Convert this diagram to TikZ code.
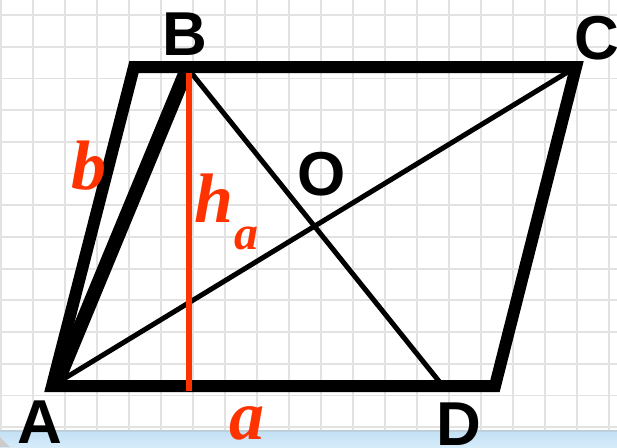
\documentclass[tikz,border=0pt]{standalone}
\usepackage{fontspec}
\setmainfont{Liberation Sans}
\newfontfamily\redserif{Liberation Serif}
\definecolor{redlab}{RGB}{255,51,0}
\definecolor{gridc}{RGB}{226,226,226}
\definecolor{stripA}{RGB}{196,224,244}
\definecolor{stripB}{RGB}{214,236,250}
\definecolor{stripL}{RGB}{190,208,220}
\tikzset{
  gridline/.style={draw=gridc, line width=1.8},
  side/.style={draw=black, line width=12, line join=miter},
  thickseg/.style={draw=black, line width=14},
  diag/.style={draw=black, line width=5},
  heightline/.style={draw=redlab, line width=6},
  ptlabel/.style={font=\fontsize{62}{62}\selectfont\bfseries, inner sep=0, anchor=base},
  redlabel/.style={font=\fontsize{70}{70}\selectfont\redserif\bfseries\itshape, text=redlab, inner sep=0, anchor=base},
  sublabel/.style={font=\fontsize{48}{48}\selectfont\redserif\bfseries\itshape, text=redlab, inner sep=0, anchor=base}
}
\begin{document}
\begin{tikzpicture}[x=1pt,y=-1pt]
\useasboundingbox (0,0) rectangle (617,447);
\fill[white] (0,0) rectangle (617,447);
% grid
\draw[gridline] (1,0) -- (1,447);
\foreach \i in {0,...,18} \draw[gridline] ({33+32*\i},0) -- ({33+32*\i},447);
\foreach \j in {0,...,13} \draw[gridline] (0,{15+31.7*\j}) -- (617,{15+31.7*\j});
% bottom strip
\shade[top color=stripA, bottom color=stripB] (0,432) rectangle (617,447);
\draw[stripL, line width=1.5] (0,431) -- (617,431);
\fill[gray!40] (0,437) -- (10,447) -- (0,447) -- cycle;
% points
\coordinate (P) at (134,67);
\coordinate (C) at (576,67);
\coordinate (Q) at (495,386);
\coordinate (A) at (52,386);
\coordinate (Atip) at (57,383);
\coordinate (B) at (187,69);
\coordinate (Bd) at (189,70);
\coordinate (D) at (442,385);
\coordinate (Htop) at (189,73);
\coordinate (Hbot) at (189,391);
% parallelogram
\draw[side] (P) -- (C) -- (Q) -- (A) -- cycle;
\draw[thickseg] (Atip) -- (B);
\draw[diag] (Atip) -- (C);
\draw[diag] (Bd) -- (D);
\draw[heightline] (Htop) -- (Hbot);
% labels
\node[ptlabel] (lB) at (185,55) {B};
\node[ptlabel] (lC) at (597,59) {C};
\node[ptlabel] (lA) at (40,443) {A};
\node[ptlabel] (lD) at (459,445) {D};
\node[ptlabel] (lO) at (322,195) {O};
\node[redlabel] (lb) at (89,189) {b};
\node[redlabel] (lh) at (214,222) {h};
\node[sublabel] (lsub) at (246,249) {a};
\node[redlabel] (la) at (247,439) {a};
\end{tikzpicture}
\end{document}
